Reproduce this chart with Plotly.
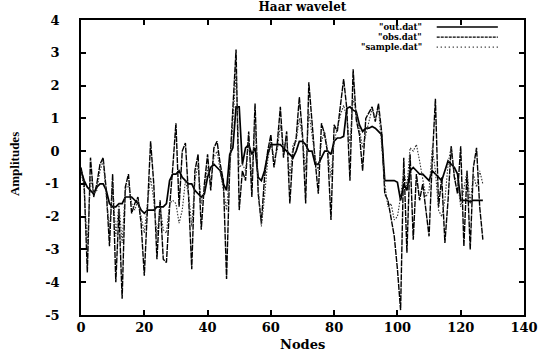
import plotly.graph_objects as go

nodes = list(range(128))

obs_vals = [
    -0.5, -1.0, -3.7, -0.2, -1.4, -1.0, -0.4, -0.2, -1.2, -2.9,
    -0.7, -4.0, -1.8, -4.5, -1.1, -0.7, -1.9, -1.6, -1.4, -2.2,
    -3.8, -1.5, 0.3, -1.0, -3.3, -1.5, -3.3, -3.4, -1.7, -0.5,
    0.85, -1.7, 0.0, 0.25, -1.4, -3.6, -0.6, -0.1, -2.4, -1.0,
    -0.1, -1.2, 0.1, 0.3, -0.4, -0.9, -3.9, -0.5, 1.4, 3.1,
    -1.8, -0.6, -0.9, 0.6, -1.4, 1.45, -1.3, -2.2, -0.8, 0.0,
    0.5, -0.5, 0.2, 1.35, -0.2, 0.6, -1.6, 0.0, 0.4, 1.65,
    0.5, -1.6, 2.1, 0.8, -0.3, -1.3, 0.85, 0.5, -0.1, -2.1,
    0.8, 0.6, 1.5, 2.2, 1.3, -0.9, 2.5, 0.95, 0.5, -0.6,
    1.0, 1.2, 1.35, 0.9, 1.45, 0.6, -1.3, -1.5, -2.0, -2.6,
    -3.6, -4.85, -0.2, -3.1, -0.1, -2.7, -0.7, -1.5, -1.0, -1.9,
    -2.6, -0.3, 1.6, -1.7, -0.8, -2.8, -1.5, 0.15, -0.8, -1.3,
    0.15, -2.9, -0.6, -3.0, -0.5, 0.1, -1.7, -2.7,
]

sample_vals = [
    -0.6, -1.2, -2.9, -0.8, -1.3, -1.2, -0.6, -0.3, -1.4, -2.4,
    -1.0, -2.6, -1.6, -2.8, -1.2, -1.0, -1.6, -1.8, -1.5, -2.0,
    -2.5, -1.6, -0.8, -1.5, -2.6, -1.7, -2.4, -2.5, -1.6, -1.5,
    -1.6, -2.2, -1.8, -0.9, -1.3, -2.3, -0.9, -0.4, -1.6, -1.2,
    -0.5, -0.9, -0.2, 0.0, -0.6, -1.1, -1.8, -0.6, 0.8, 2.4,
    -0.5, -0.4, -0.6, 0.3, -0.8, 0.9, -1.1, -2.3, -1.4, -0.3,
    0.3, -0.2, 0.0, 0.8, 0.1, 0.4, -0.8, 0.2, 0.3, 1.0,
    0.4, -0.6, 1.2, 0.5, -0.2, -0.6, 0.3, 0.6, 0.0, -0.8,
    0.3, 0.7, 1.1, 1.4, 1.0, 0.2, 1.6, 1.2, 0.7, 0.1,
    0.5, 0.9, 1.3, 1.0, 1.3, 0.2, -1.0, -1.7, -1.6, -2.1,
    -2.0, -1.4, -0.6, -1.1, 0.1, 0.0, 0.2, -0.3, -0.9, -1.4,
    -1.2, 0.1, -0.6, -1.8, -2.0, -1.5, -0.4, 0.15, -0.8, -0.9,
    -1.7, -1.2, -0.6, -1.6, -0.7, -1.1, -0.6, -1.0,
]

out_vals = [
    -0.6, -0.9, -1.1, -1.2, -1.3, -1.1, -1.0, -1.0, -1.2, -1.6,
    -1.7, -1.7, -1.6, -1.6, -1.4, -1.4, -1.4, -1.5, -1.6, -1.8,
    -1.9, -1.8, -1.8, -1.8, -1.7, -1.7, -1.7, -1.6, -0.9, -0.7,
    -0.7, -0.6, -0.8, -0.9, -1.0, -1.0, -1.2, -1.3, -1.4, -1.3,
    -0.8, -0.5, -0.4, -0.5, -0.6, -1.0, -1.2, -0.1, 0.1, 1.35,
    1.35, -0.4, 0.1, 0.2, -0.1, 0.1, -0.8, -0.9, -0.6, -0.1,
    0.2, 0.2, 0.2, 0.2, 0.1, 0.0, -0.1, -0.2, 0.0, 0.3,
    0.3, 0.2, 0.0, 0.0, -0.4, -0.4, -0.2, 0.0, 0.0, -0.1,
    0.3, 0.4, 0.4, 0.45, 1.3, 1.35, 1.25, 1.2, 0.8, 0.6,
    0.7, 0.7, 0.75, 0.7, 0.6, 0.5, -0.9, -0.9, -0.9, -0.9,
    -0.95, -1.5, -1.0, -1.2, -0.6, -0.5, -0.6, -0.7, -0.7, -0.8,
    -0.9, -0.6, -0.7, -0.8, -0.9, -0.6, -0.3, -0.4, -0.5, -0.7,
    -1.5, -1.5, -1.5, -1.55, -1.5, -1.5, -1.5, -1.5,
]

series_names = ['"out.dat"', '"obs.dat"', '"sample.dat"']
x_ticks = [0, 20, 40, 60, 80, 100, 120, 140]
y_ticks = [-5, -4, -3, -2, -1, 0, 1, 2, 3, 4]
y_tick_labels = ["-5", "-4", "-3", "-2", "-1", "0", "1", "2", "3", "4"]

FONT = "DejaVu Serif"

fig = go.Figure()
fig.add_trace(go.Scatter(x=nodes, y=out_vals, mode="lines", name=series_names[0],
                         line=dict(color="black", width=1.7)))
fig.add_trace(go.Scatter(x=nodes, y=obs_vals, mode="lines", name=series_names[1],
                         line=dict(color="black", width=1.4, dash="6px,1px")))
fig.add_trace(go.Scatter(x=nodes, y=sample_vals, mode="lines", name=series_names[2],
                         line=dict(color="#333333", width=1.1, dash="1.5px,1.5px")))

# manual gnuplot-style key (text on the left, line sample on the right)
key_y = [0.976, 0.942, 0.908]
key_dash = ["solid", "3px,1px", "1px,3px"]
key_width = [1.5, 1.2, 1.1]
for name, ky, dsh, w in zip(series_names, key_y, key_dash, key_width):
    fig.add_annotation(text=name, xref="paper", yref="paper", x=0.772, y=ky,
                       xanchor="right", yanchor="middle", showarrow=False, borderpad=0,
                       font=dict(family=FONT, size=8.5, color="black", weight="bold"))
    fig.add_shape(type="line", xref="paper", yref="paper", x0=0.803, x1=0.941,
                  y0=ky, y1=ky, line=dict(color="black", width=w, dash=dsh))

# axis titles placed like gnuplot's labels
fig.add_annotation(text="Amplitudes", xref="paper", yref="paper", x=-0.15, y=0.51,
                   xanchor="center", yanchor="middle", textangle=-90, showarrow=False,
                   font=dict(family="Liberation Serif", size=13, color="black", weight="bold"))
fig.add_annotation(text="Nodes", xref="paper", yref="paper", x=0.5, y=-0.1,
                   xanchor="center", yanchor="middle", showarrow=False,
                   font=dict(family=FONT, size=13, color="black", weight="bold"))

axis_common = dict(
    showline=True, linecolor="black", linewidth=1.5, mirror="ticks",
    ticks="inside", ticklen=5, tickwidth=1.5, tickcolor="black",
    showgrid=False, zeroline=False, automargin=False,
    tickfont=dict(family=FONT, size=13, color="black", weight="bold"),
)

fig.update_layout(
    width=543, height=354,
    margin=dict(l=81, r=19, t=20, b=39),
    paper_bgcolor="white", plot_bgcolor="white",
    showlegend=False,
    title=dict(text="Haar wavelet", x=0.557, xanchor="center", y=0.98, yanchor="middle",
               font=dict(family=FONT, size=12, color="black", weight="bold")),
    xaxis=dict(range=[0, 140], tickvals=x_ticks, ticklabelstandoff=0, **axis_common),
    yaxis=dict(range=[-5, 4], tickvals=y_ticks, ticktext=y_tick_labels, ticklabelstandoff=17,
               **axis_common),
)

fig.write_html("out.html", config={"displayModeBar": False},
               post_script="document.body.style.margin='0';")
